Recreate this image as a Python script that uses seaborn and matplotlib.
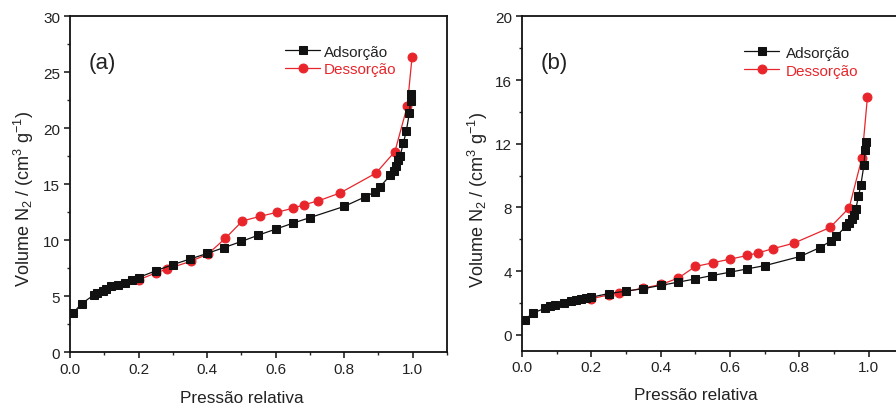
import numpy as np
import pandas as pd
import matplotlib
matplotlib.use("Agg")
import matplotlib.pyplot as plt
from matplotlib.ticker import MultipleLocator
import seaborn as sns

# ---------------- data ----------------
# Panel (a)
a_ads_x = [0.01, 0.034, 0.07, 0.08, 0.095, 0.105, 0.12, 0.14, 0.16, 0.18, 0.20, 0.25, 0.30,
           0.35, 0.40, 0.45, 0.50, 0.55, 0.60, 0.65, 0.70, 0.80, 0.86, 0.89, 0.905, 0.935,
           0.945, 0.951, 0.958, 0.963, 0.973, 0.981, 0.99, 0.994, 0.996]
a_ads_y = [3.52, 4.32, 5.1, 5.25, 5.46, 5.6, 5.85, 6.0, 6.2, 6.4, 6.65, 7.25, 7.8,
           8.3, 8.8, 9.33, 9.87, 10.44, 10.97, 11.5, 12.0, 13.0, 13.84, 14.3, 14.76, 15.8,
           16.2, 16.6, 17.1, 17.5, 18.7, 19.7, 21.3, 22.45, 23.05]
a_des_x = [0.998, 0.984, 0.948, 0.893, 0.788, 0.725, 0.683, 0.652, 0.603, 0.553, 0.503,
           0.453, 0.402, 0.352, 0.283, 0.251, 0.20]
a_des_y = [26.33, 21.95, 17.9, 15.98, 14.2, 13.5, 13.15, 12.85, 12.47, 12.1, 11.7,
           10.14, 8.74, 8.1, 7.4, 7.07, 6.44]

# Panel (b)
b_ads_x = [0.008, 0.033, 0.067, 0.081, 0.096, 0.12, 0.14, 0.156, 0.17, 0.185, 0.20, 0.25,
           0.30, 0.35, 0.40, 0.449, 0.50, 0.548, 0.60, 0.65, 0.702, 0.803, 0.86, 0.892,
           0.907, 0.935, 0.944, 0.952, 0.958, 0.963, 0.971, 0.978, 0.987, 0.99, 0.993]
b_ads_y = [0.96, 1.38, 1.67, 1.8, 1.9, 2.0, 2.11, 2.2, 2.26, 2.32, 2.36, 2.59,
           2.74, 2.9, 3.1, 3.3, 3.51, 3.72, 3.93, 4.14, 4.35, 4.92, 5.48, 5.9,
           6.19, 6.82, 7.03, 7.28, 7.53, 7.87, 8.7, 9.43, 10.69, 11.6, 12.13]
b_des_x = [0.997, 0.981, 0.944, 0.889, 0.784, 0.723, 0.682, 0.65, 0.60, 0.55, 0.50,
           0.451, 0.401, 0.35, 0.28, 0.25, 0.20]
b_des_y = [14.96, 11.1, 7.97, 6.74, 5.75, 5.4, 5.15, 4.98, 4.75, 4.52, 4.29,
           3.56, 3.16, 2.93, 2.64, 2.51, 2.26]

series_labels = ["Adsorção", "Dessorção"]
panel_labels = ["(a)", "(b)"]
x_label = "Pressão relativa"
y_label = r"Volume N$_2$ / (cm$^3$ g$^{-1}$)"

# ---------------- style ----------------
sns.set_theme(style="ticks")
plt.rcParams['font.family'] = ['Liberation Sans', 'DejaVu Sans']
plt.rcParams['mathtext.fontset'] = 'custom'
plt.rcParams['mathtext.rm'] = 'Liberation Sans'
plt.rcParams['mathtext.it'] = 'Liberation Sans:italic'
plt.rcParams['mathtext.bf'] = 'Liberation Sans:bold'

RED = "#e8252b"
BLACK = "#111111"

fig = plt.figure(figsize=(8.96, 4.06), dpi=100)
ax_a = fig.add_axes([0.0781, 0.1305, 0.4208, 0.8276])
ax_b = fig.add_axes([0.5826, 0.1337, 0.4254, 0.8236])

panels = [
    (ax_a, a_ads_x, a_ads_y, a_des_x, a_des_y, (0, 30), 5, 2.5, (-0.090, 0.46), (0.456, -0.113),
     (0.571, 0.915), 0.22),
    (ax_b, b_ads_x, b_ads_y, b_des_x, b_des_y, (-1, 20), 4, 2, (-0.084, 0.454), (0.457, -0.108),
     (0.583, 0.912), 0.4),
]

for i, (ax, ax_x, ax_y, dx, dy, ylim, ymaj, ymin, ylc, xlc, lanchor, htp) in enumerate(panels):
    df_a = pd.DataFrame({"x": ax_x, "y": ax_y})
    df_d = pd.DataFrame({"x": dx, "y": dy})
    sns.lineplot(data=df_a, x="x", y="y", sort=False, ax=ax, color=BLACK,
                 marker="s", markersize=5.5, mec=BLACK, mfc=BLACK, linewidth=0.9,
                 label=series_labels[0], zorder=3)
    sns.lineplot(data=df_d, x="x", y="y", sort=False, ax=ax, color=RED,
                 marker="o", markersize=6.4, mec=RED, mfc=RED, linewidth=0.9,
                 label=series_labels[1], zorder=2)
    ax.set_xlim(0, 1.1)
    ax.set_ylim(*ylim)
    ax.xaxis.set_major_locator(MultipleLocator(0.2))
    ax.xaxis.set_minor_locator(MultipleLocator(0.1))
    ax.yaxis.set_major_locator(MultipleLocator(ymaj))
    ax.yaxis.set_minor_locator(MultipleLocator(ymin))
    ax.set_xticks([0, 0.2, 0.4, 0.6, 0.8, 1.0])
    ax.set_xticklabels(["0.0", "0.2", "0.4", "0.6", "0.8", "1.0"])
    ax.tick_params(axis="both", which="major", direction="out", length=4, width=1.2,
                   labelsize=11, colors="#222222", pad=3, top=False, right=False)
    ax.tick_params(axis="both", which="minor", direction="out", length=2.5, width=1.0,
                   top=False, right=False)
    for s in ax.spines.values():
        s.set_visible(True)
        s.set_linewidth(1.3)
        s.set_color("#111111")
    ax.set_xlabel(x_label, fontsize=12.3, color="#222222")
    ax.set_ylabel(y_label, fontsize=13, color="#222222")
    ax.yaxis.set_label_coords(*ylc)
    ax.xaxis.set_label_coords(*xlc)
    ax.text(0.05, 0.863, panel_labels[i], transform=ax.transAxes, fontsize=16,
            va="center", ha="left", color="#222222")
    leg = ax.legend(loc="upper left", bbox_to_anchor=lanchor, frameon=False,
                    fontsize=11, handlelength=2.3, handletextpad=htp, labelspacing=0.25,
                    borderaxespad=0, borderpad=0)
    for t, c in zip(leg.get_texts(), ["#222222", RED]):
        t.set_color(c)

fig.savefig("out.png", dpi=100)
